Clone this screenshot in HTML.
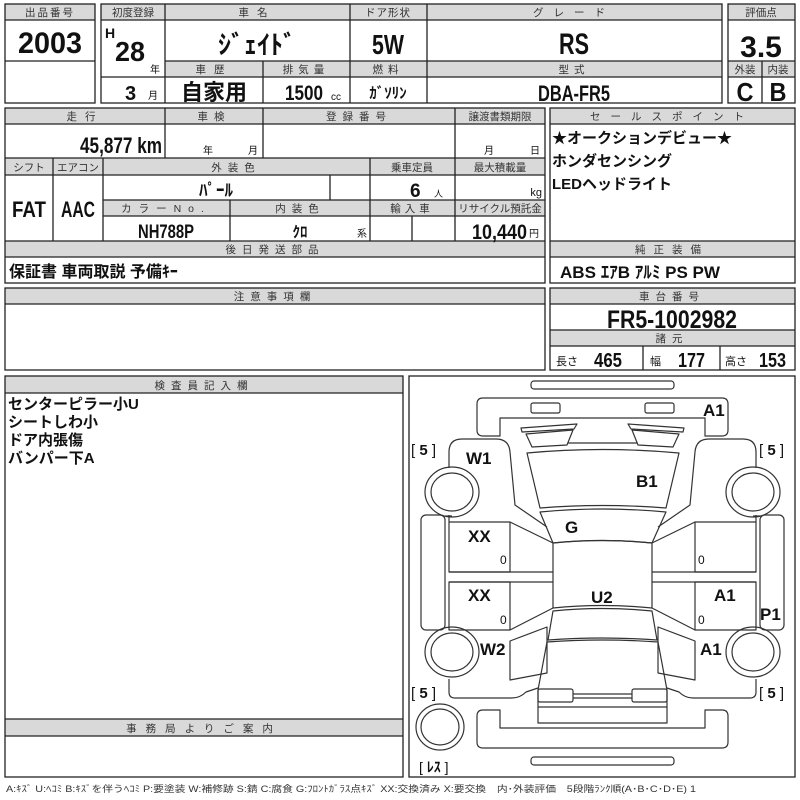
<!DOCTYPE html>
<html><head><meta charset="utf-8"><style>
html,body{margin:0;padding:0;background:#fff;width:800px;height:800px;overflow:hidden}
svg text{font-family:"Liberation Sans Narrow","Liberation Sans","Noto Sans CJK JP",sans-serif}
.h{font-family:"Liberation Sans","Noto Sans CJK JP",sans-serif;font-size:10.5px;fill:#333;text-anchor:middle;letter-spacing:2px}
.b{font-weight:bold;fill:#111}
.c{text-anchor:middle}
.g{fill:#d9d9d9}
.jp{font-family:"Liberation Sans","Noto Sans CJK JP",sans-serif}
</style></head><body>
<svg width="800" height="800" viewBox="0 0 800 800" xmlns="http://www.w3.org/2000/svg">
<g stroke="#222" stroke-width="1.3" fill="none">
<rect class="g" x="5" y="4" width="90" height="16" stroke="none"/>
<rect x="5" y="4" width="90" height="99"/>
<line x1="5" y1="20" x2="95" y2="20"/><line x1="5" y1="61" x2="95" y2="61"/>
<rect class="g" x="101" y="4" width="621" height="16" stroke="none"/>
<rect class="g" x="165" y="61" width="557" height="16" stroke="none"/>
<rect x="101" y="4" width="621" height="99"/>
<line x1="101" y1="20" x2="722" y2="20"/><line x1="165" y1="61" x2="722" y2="61"/><line x1="101" y1="77" x2="722" y2="77"/>
<line x1="165" y1="4" x2="165" y2="103"/><line x1="350" y1="4" x2="350" y2="103"/><line x1="427" y1="4" x2="427" y2="103"/><line x1="263" y1="61" x2="263" y2="103"/>
<rect class="g" x="728" y="4" width="67" height="16" stroke="none"/>
<rect class="g" x="728" y="61" width="67" height="16" stroke="none"/>
<rect x="728" y="4" width="67" height="99"/>
<line x1="728" y1="20" x2="795" y2="20"/><line x1="728" y1="61" x2="795" y2="61"/><line x1="728" y1="77" x2="795" y2="77"/><line x1="762" y1="61" x2="762" y2="103"/>
<rect class="g" x="5" y="108" width="540" height="16" stroke="none"/>
<rect class="g" x="5" y="158" width="540" height="17" stroke="none"/>
<rect class="g" x="103" y="200" width="442" height="16" stroke="none"/>
<rect class="g" x="5" y="241" width="540" height="16" stroke="none"/>
<rect x="5" y="108" width="540" height="175"/>
<line x1="5" y1="124" x2="545" y2="124"/><line x1="5" y1="158" x2="545" y2="158"/><line x1="5" y1="175" x2="545" y2="175"/>
<line x1="103" y1="200" x2="545" y2="200"/><line x1="103" y1="216" x2="545" y2="216"/><line x1="5" y1="241" x2="545" y2="241"/><line x1="5" y1="257" x2="545" y2="257"/>
<line x1="165" y1="108" x2="165" y2="158"/><line x1="263" y1="108" x2="263" y2="158"/><line x1="455" y1="108" x2="455" y2="241"/>
<line x1="53" y1="158" x2="53" y2="241"/><line x1="103" y1="158" x2="103" y2="241"/><line x1="370" y1="158" x2="370" y2="241"/>
<line x1="330" y1="175" x2="330" y2="200"/><line x1="230" y1="200" x2="230" y2="241"/><line x1="412" y1="216" x2="412" y2="241"/>
<rect class="g" x="550" y="108" width="245" height="16" stroke="none"/>
<rect class="g" x="550" y="241" width="245" height="16" stroke="none"/>
<rect x="550" y="108" width="245" height="175"/>
<line x1="550" y1="124" x2="795" y2="124"/><line x1="550" y1="241" x2="795" y2="241"/><line x1="550" y1="257" x2="795" y2="257"/>
<rect class="g" x="5" y="288" width="540" height="16" stroke="none"/>
<rect x="5" y="288" width="540" height="82"/><line x1="5" y1="304" x2="545" y2="304"/>
<rect class="g" x="550" y="288" width="245" height="16" stroke="none"/>
<rect class="g" x="550" y="330" width="245" height="16" stroke="none"/>
<rect x="550" y="288" width="245" height="82"/>
<line x1="550" y1="304" x2="795" y2="304"/><line x1="550" y1="330" x2="795" y2="330"/><line x1="550" y1="346" x2="795" y2="346"/>
<line x1="643" y1="346" x2="643" y2="370"/><line x1="720" y1="346" x2="720" y2="370"/>
<rect class="g" x="5" y="376" width="398" height="17" stroke="none"/>
<rect class="g" x="5" y="719" width="398" height="17" stroke="none"/>
<rect x="5" y="376" width="398" height="401"/>
<line x1="5" y1="393" x2="403" y2="393"/><line x1="5" y1="719" x2="403" y2="719"/><line x1="5" y1="736" x2="403" y2="736"/>
<rect x="409" y="376" width="386" height="401"/>
</g>

<g stroke="#333" stroke-width="1.2" fill="none" stroke-linejoin="round">
<rect x="531" y="381" width="143" height="8" rx="3"/>
<rect x="531" y="757" width="143" height="8" rx="3"/>
<path d="M483,398 H722 Q728,398 728,404 V430 Q728,436 722,436 H705 V418 H500 V436 H483 Q477,436 477,430 V404 Q477,398 483,398 Z"/>
<rect x="531" y="403" width="29" height="10" rx="2"/><rect x="645" y="403" width="29" height="10" rx="2"/>
<path d="M483,710 H500 V728 H705 V710 H722 Q728,710 728,716 V742 Q728,748 722,748 H483 Q477,748 477,742 V716 Q477,710 483,710 Z"/>
<path d="M521,428 L577,424 L574,429 L522,432 Z"/><path d="M684,428 L628,424 L631,429 L683,432 Z"/>
<path d="M526,434 L573,430 L567,445 L532,447 Z"/><path d="M679,434 L632,430 L638,445 L673,447 Z"/>
<line x1="568" y1="443" x2="637" y2="443"/>
<path d="M527,453 Q602,446 679,453 L666,508 Q602,503 540,508 Z"/>
<path d="M540,512 Q602,506 666,512 L652,543 Q602,538 553,543 Z"/>
<path d="M553,543 Q602,538 652,543 L652,608 Q602,603 553,608 Z"/>
<path d="M553,611 Q602,606 652,611 L657,640 Q602,636 548,640 Z"/>
<path d="M547,642 Q602,638 658,642 L667,690 L667,723 H538 L538,690 Z"/>
<rect x="538" y="689" width="35" height="13" rx="2"/><rect x="632" y="689" width="35" height="13" rx="2"/>
<line x1="573" y1="694" x2="632" y2="694"/><line x1="573" y1="698" x2="632" y2="698"/>
<line x1="538" y1="707" x2="667" y2="707"/>
<g id="side">
<path d="M449,468 V452 Q449,439 462,439 H496 Q509,439 510,452 L515,505 L547,527"/>
<line x1="449" y1="515" x2="449" y2="522"/>
<line x1="452" y1="516" x2="445" y2="516"/>
<path d="M449,522 H510 V572 H449 Z"/>
<path d="M449,572 H553 M449,582 H553"/>
<path d="M449,582 H510 V630 H449 Z"/>
<line x1="510" y1="522" x2="553" y2="543"/>
<line x1="510" y1="630" x2="553" y2="608"/>
<path d="M510,641 L547,627 L547,673 L510,680 Z"/>
<path d="M449,679 V692 Q449,698 455,698 H512 Q520,698 526,692 L538,688"/>
<rect x="421" y="515" width="24" height="115" rx="5"/>
<ellipse cx="452" cy="492" rx="27" ry="25"/><ellipse cx="452" cy="492" rx="21" ry="19"/>
<ellipse cx="452" cy="652" rx="27" ry="25"/><ellipse cx="452" cy="652" rx="21" ry="19"/>
</g>
<use href="#side" transform="translate(1205,0) scale(-1,1)"/>
<ellipse cx="440" cy="727" rx="24" ry="23"/><ellipse cx="440" cy="727" rx="19" ry="18"/>
</g>

<g class="h">
<text x="50" y="16">出品番号</text>
<text x="133" y="16" letter-spacing="0">初度登録</text>
<text x="257" y="16" letter-spacing="8">車名</text>
<text x="388" y="16" letter-spacing="1">ドア形状</text>
<text x="574" y="16" letter-spacing="10">グレード</text>
<text x="761" y="16" letter-spacing="0">評価点</text>
<text x="214" y="73" letter-spacing="8">車歴</text>
<text x="306" y="73" letter-spacing="5">排気量</text>
<text x="388" y="73" letter-spacing="5">燃料</text>
<text x="574" y="73" letter-spacing="5">型式</text>
<text x="745" y="73" letter-spacing="0">外装</text>
<text x="778" y="73" letter-spacing="0">内装</text>
<text x="85" y="120" letter-spacing="8">走行</text>
<text x="214" y="120" letter-spacing="6">車検</text>
<text x="359" y="120" letter-spacing="6">登録番号</text>
<text x="500" y="120" letter-spacing="0">譲渡書類期限</text>
<text x="29" y="171" letter-spacing="0">シフト</text>
<text x="78" y="171" letter-spacing="0">エアコン</text>
<text x="236" y="171" letter-spacing="6">外装色</text>
<text x="412" y="171" letter-spacing="0">乗車定員</text>
<text x="500" y="171" letter-spacing="0">最大積載量</text>
<text x="166" y="212" letter-spacing="7">カラーNo.</text>
<text x="300" y="212" letter-spacing="6">内装色</text>
<text x="412" y="212" letter-spacing="4">輸入車</text>
<text x="500" y="212" letter-spacing="0">リサイクル預託金</text>
<text x="275" y="253" letter-spacing="6">後日発送部品</text>
<text x="672" y="120" letter-spacing="10">セールスポイント</text>
<text x="672" y="253" letter-spacing="8">純正装備</text>
<text x="275" y="300" letter-spacing="6">注意事項欄</text>
<text x="672" y="300" letter-spacing="6">車台番号</text>
<text x="672" y="342" letter-spacing="6">諸元</text>
<text x="204" y="389" letter-spacing="6">検査員記入欄</text>
<text x="204" y="732" letter-spacing="9">事務局よりご案内</text>
</g>

<g class="b">
<text class="c" x="50" y="53" font-size="30" textLength="64" lengthAdjust="spacingAndGlyphs">2003</text>
<text x="105" y="38" font-size="14">H</text>
<text x="115" y="61" font-size="28" textLength="30" lengthAdjust="spacingAndGlyphs">28</text>
<text class="jp" x="150" y="73" font-size="10" font-weight="normal">年</text>
<text x="125" y="100" font-size="20">3</text>
<text class="jp" x="148" y="99" font-size="10" font-weight="normal">月</text>
<text class="c jp" x="257" y="54" font-size="26">ｼﾞｪｲﾄﾞ</text>
<text class="c" x="388" y="54" font-size="28" textLength="32" lengthAdjust="spacingAndGlyphs">5W</text>
<text class="c" x="574" y="54" font-size="30" textLength="30" lengthAdjust="spacingAndGlyphs">RS</text>
<text class="c" x="761" y="57" font-size="30">3.5</text>
<text class="c jp" x="214" y="100" font-size="22">自家用</text>
<text x="285" y="100" font-size="21" textLength="38" lengthAdjust="spacingAndGlyphs">1500</text>
<text x="331" y="100" font-size="10" font-weight="normal">cc</text>
<text class="c jp" x="388" y="98" font-size="15">ｶﾞｿﾘﾝ</text>
<text class="c" x="574" y="101" font-size="22" textLength="72" lengthAdjust="spacingAndGlyphs">DBA-FR5</text>
<text class="c" x="745" y="101" font-size="26" textLength="17" lengthAdjust="spacingAndGlyphs">C</text>
<text class="c" x="778" y="101" font-size="26" textLength="17" lengthAdjust="spacingAndGlyphs">B</text>
<text x="162" y="153" font-size="22" text-anchor="end" textLength="82" lengthAdjust="spacingAndGlyphs">45,877 km</text>
<text class="jp" x="203" y="154" font-size="10" font-weight="normal">年</text>
<text class="jp" x="248" y="154" font-size="10" font-weight="normal">月</text>
<text class="jp" x="484" y="154" font-size="10" font-weight="normal">月</text>
<text class="jp" x="530" y="154" font-size="10" font-weight="normal">日</text>
<text class="c" x="29" y="217" font-size="22" textLength="34" lengthAdjust="spacingAndGlyphs">FAT</text>
<text class="c" x="78" y="217" font-size="22" textLength="34" lengthAdjust="spacingAndGlyphs">AAC</text>
<text class="c jp" x="216" y="196" font-size="17">ﾊﾟｰﾙ</text>
<text x="410" y="197" font-size="19">6</text>
<text class="jp" x="434" y="197" font-size="9" font-weight="normal">人</text>
<text x="542" y="196" font-size="11" font-weight="normal" text-anchor="end">kg</text>
<text class="c" x="166" y="238" font-size="19" textLength="56" lengthAdjust="spacingAndGlyphs">NH788P</text>
<text class="c jp" x="300" y="237" font-size="15">ｸﾛ</text>
<text class="jp" x="357" y="237" font-size="10" font-weight="normal">系</text>
<text x="527" y="239" font-size="21" text-anchor="end" textLength="55" lengthAdjust="spacingAndGlyphs">10,440</text>
<text class="jp" x="529" y="237" font-size="10" font-weight="normal">円</text>
<text class="jp" x="9" y="277" font-size="16">保証書 車両取説 予備ｷｰ</text>
<text class="jp" x="552" y="143" font-size="15">★オークションデビュー★</text>
<text class="jp" x="552" y="166" font-size="15">ホンダセンシング</text>
<text class="jp" x="552" y="189" font-size="15">LEDヘッドライト</text>
<text class="jp" x="560" y="278" font-size="17" textLength="160" lengthAdjust="spacingAndGlyphs">ABS ｴｱB ｱﾙﾐ PS PW</text>
<text class="c" x="672" y="328" font-size="25" textLength="130" lengthAdjust="spacingAndGlyphs">FR5-1002982</text>
<text class="jp" x="556" y="365" font-size="11" font-weight="normal">長さ</text>
<text x="622" y="367" font-size="20" text-anchor="end" textLength="28" lengthAdjust="spacingAndGlyphs">465</text>
<text class="jp" x="650" y="365" font-size="11" font-weight="normal">幅</text>
<text x="705" y="367" font-size="20" text-anchor="end" textLength="27" lengthAdjust="spacingAndGlyphs">177</text>
<text class="jp" x="725" y="365" font-size="11" font-weight="normal">高さ</text>
<text x="786" y="367" font-size="20" text-anchor="end" textLength="27" lengthAdjust="spacingAndGlyphs">153</text>
<text class="jp" x="8" y="409" font-size="15">センターピラー小U</text>
<text class="jp" x="8" y="427" font-size="15">シートしわ小</text>
<text class="jp" x="8" y="445" font-size="15">ドア内張傷</text>
<text class="jp" x="8" y="463" font-size="15">バンパー下A</text>
</g>

<g class="b">
<text x="703" y="416" font-size="17">A1</text>
<text x="466" y="464" font-size="17">W1</text>
<text x="636" y="487" font-size="17">B1</text>
<text x="565" y="533" font-size="17">G</text>
<text x="468" y="542" font-size="17">XX</text>
<text x="468" y="601" font-size="17">XX</text>
<text x="591" y="603" font-size="17">U2</text>
<text x="714" y="601" font-size="17">A1</text>
<text x="760" y="620" font-size="17">P1</text>
<text x="480" y="655" font-size="17">W2</text>
<text x="700" y="655" font-size="17">A1</text>
<text x="500" y="564" font-size="12" font-weight="normal">0</text>
<text x="500" y="624" font-size="12" font-weight="normal">0</text>
<text x="698" y="564" font-size="12" font-weight="normal">0</text>
<text x="698" y="624" font-size="12" font-weight="normal">0</text>
<text x="411" y="455" font-size="15" font-weight="normal">[ <tspan font-weight="bold">5</tspan> ]</text>
<text x="759" y="455" font-size="15" font-weight="normal">[ <tspan font-weight="bold">5</tspan> ]</text>
<text x="411" y="698" font-size="15" font-weight="normal">[ <tspan font-weight="bold">5</tspan> ]</text>
<text x="759" y="698" font-size="15" font-weight="normal">[ <tspan font-weight="bold">5</tspan> ]</text>
<text class="jp" x="419" y="772" font-size="14" font-weight="normal">[ <tspan font-weight="bold">ﾚｽ</tspan> ]</text>
</g>
<text class="jp" x="6" y="792" font-size="9" fill="#333" textLength="690" lengthAdjust="spacingAndGlyphs">A:ｷｽﾞ U:ﾍｺﾐ B:ｷｽﾞを伴うﾍｺﾐ P:要塗装 W:補修跡 S:錆 C:腐食 G:ﾌﾛﾝﾄｶﾞﾗｽ点ｷｽﾞ XX:交換済み X:要交換　内･外装評価　5段階ﾗﾝｸ順(A･B･C･D･E) 1</text>
</svg>
</body></html>
